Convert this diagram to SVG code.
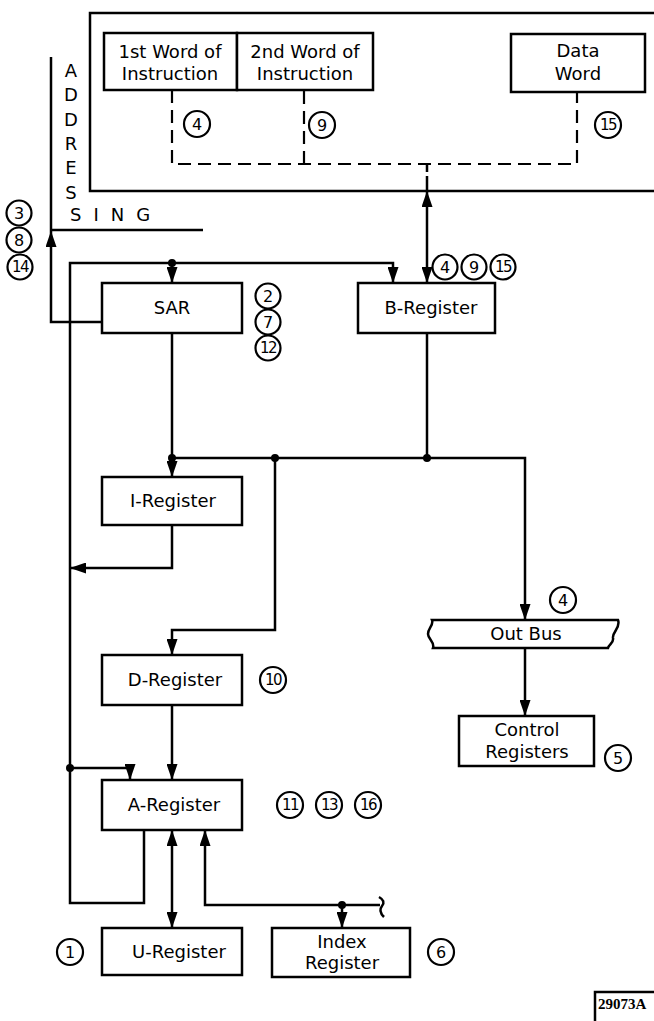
<svg xmlns="http://www.w3.org/2000/svg" width="654" height="1021" viewBox="0 0 654 1021">
<defs>
<style>
.box{fill:#fff;stroke:#000;stroke-width:2.5}
.ln{fill:none;stroke:#000;stroke-width:2.5}
.dash{fill:none;stroke:#000;stroke-width:2.2;stroke-dasharray:13,7}
.t{font-family:"DejaVu Sans",sans-serif;font-size:18px;fill:#000;text-anchor:middle}
.tl{font-family:"DejaVu Sans",sans-serif;font-size:18px;fill:#000}
.c{fill:#fff;stroke:#000;stroke-width:2.2}
.n{font-family:"DejaVu Sans",sans-serif;font-size:16px;fill:#000;text-anchor:middle}
.nn{font-family:"DejaVu Sans",sans-serif;font-size:15px;fill:#000;text-anchor:middle;letter-spacing:-1.5px}
.dot{fill:#000}
</style>
<marker id="ah" viewBox="0 0 16 11" refX="16" refY="5.5" markerWidth="16" markerHeight="11" markerUnits="userSpaceOnUse" orient="auto-start-reverse">
<path d="M0,0 L16,5.5 L0,11 z" fill="#000"/>
</marker>
</defs>
<rect width="654" height="1021" fill="#fff"/>

<g id="memory">
<path class="ln" d="M654,13 H90 V191 H654"/>
</g>
<g id="word1">
<rect class="box" x="104" y="33" width="133" height="57"/>
<text class="t" x="170" y="58">1st Word of</text>
<text class="t" x="170" y="80">Instruction</text>
</g>
<g id="word2">
<rect class="box" x="237" y="33" width="136" height="57"/>
<text class="t" x="305" y="58">2nd Word of</text>
<text class="t" x="305" y="80">Instruction</text>
</g>
<g id="dataword">
<rect class="box" x="511" y="34" width="134" height="58"/>
<text class="t" x="578" y="57">Data</text>
<text class="t" x="578" y="80">Word</text>
</g>

<g id="addressing">
<text class="t" x="71" y="77">A</text>
<text class="t" x="71" y="101">D</text>
<text class="t" x="71" y="126">D</text>
<text class="t" x="71" y="150">R</text>
<text class="t" x="71" y="174">E</text>
<text class="t" x="71" y="199">S</text>
<text class="tl" x="70" y="221" letter-spacing="12">SING</text>
</g>

<g id="sar">
<rect class="box" x="102" y="283" width="140" height="50"/>
<text class="t" x="172" y="314">SAR</text>
</g>
<g id="breg">
<rect class="box" x="358" y="283" width="137" height="50"/>
<text class="t" x="431" y="314">B-Register</text>
</g>
<g id="ireg">
<rect class="box" x="102" y="477" width="140" height="48"/>
<text class="t" x="173" y="507">I-Register</text>
</g>
<g id="dreg">
<rect class="box" x="102" y="655" width="140" height="50"/>
<text class="t" x="175" y="686">D-Register</text>
</g>
<g id="areg">
<rect class="box" x="102" y="780" width="140" height="50"/>
<text class="t" x="174" y="811">A-Register</text>
</g>
<g id="ureg">
<rect class="box" x="102" y="928" width="140" height="47"/>
<text class="t" x="179" y="958">U-Register</text>
</g>
<g id="indexreg">
<rect class="box" x="272" y="928" width="138" height="49"/>
<text class="t" x="342" y="948">Index</text>
<text class="t" x="342" y="969">Register</text>
</g>
<g id="outbus">
<path class="box" d="M432,620 H618 C621,628 612,632 613,638 C614,643 609,644 608,648 H433 C435,642 428,639 428,634 C428,628 434,625 432,620 Z"/>
<text class="t" x="526" y="640">Out Bus</text>
</g>
<g id="ctrlreg">
<rect class="box" x="459" y="716" width="135" height="50"/>
<text class="t" x="527" y="736">Control</text>
<text class="t" x="527" y="758">Registers</text>
</g>

<g id="connectors">
<path class="dash" d="M172,90 V164 H577 V92"/>
<path class="dash" d="M304,91 V164"/>
<path class="ln" d="M427,164 V172 M427,176 V191"/>
<path class="ln" d="M427,191 V283" marker-start="url(#ah)" marker-end="url(#ah)"/>
<path class="ln" d="M102,322 H51 V231" marker-end="url(#ah)"/>
<path class="ln" d="M51,231 V57"/>
<path class="ln" d="M51,230 H203"/>
<path class="ln" d="M144,830 V903 H70 V263 H393 V283" marker-end="url(#ah)"/>
<path class="ln" d="M172,263 V283" marker-end="url(#ah)"/>
<path class="ln" d="M172,333 V477" marker-end="url(#ah)"/>
<path class="ln" d="M172,458 H525 V620" marker-end="url(#ah)"/>
<path class="ln" d="M427,333 V458"/>
<path class="ln" d="M172,525 V568 H70" marker-end="url(#ah)"/>
<path class="ln" d="M275,458 V630 H172 V655" marker-end="url(#ah)"/>
<path class="ln" d="M172,705 V780" marker-end="url(#ah)"/>
<path class="ln" d="M70,768 H130 V780" marker-end="url(#ah)"/>
<path class="ln" d="M172,830 V928" marker-start="url(#ah)" marker-end="url(#ah)"/>
<path class="ln" d="M380,905 H205 V830" marker-end="url(#ah)"/>
<path class="ln" d="M379,897 Q386,901 382,906 Q378,911 384,917"/>
<path class="ln" d="M342,905 V928" marker-end="url(#ah)"/>
<path class="ln" d="M525,648 V716" marker-end="url(#ah)"/>
<circle class="dot" cx="172" cy="263" r="4"/>
<circle class="dot" cx="172" cy="458" r="4"/>
<circle class="dot" cx="275" cy="458" r="4"/>
<circle class="dot" cx="427" cy="458" r="4"/>
<circle class="dot" cx="70" cy="768" r="4"/>
<circle class="dot" cx="342" cy="905" r="4"/>
</g>

<g id="steps">
<circle class="c" cx="197" cy="124" r="13"/><text class="n" x="197" y="130">4</text>
<circle class="c" cx="322" cy="125" r="13"/><text class="n" x="322" y="131">9</text>
<circle class="c" cx="608" cy="125" r="13"/><text class="nn" x="608" y="130">15</text>
<circle class="c" cx="19" cy="213" r="12.5"/><text class="n" x="19" y="219">3</text>
<circle class="c" cx="19" cy="240" r="12.5"/><text class="n" x="19" y="246">8</text>
<circle class="c" cx="20" cy="267" r="12.5"/><text class="nn" x="20" y="272">14</text>
<circle class="c" cx="268" cy="296" r="12.5"/><text class="n" x="268" y="302">2</text>
<circle class="c" cx="268" cy="322" r="12.5"/><text class="n" x="268" y="328">7</text>
<circle class="c" cx="268" cy="348" r="12.5"/><text class="nn" x="268" y="353">12</text>
<circle class="c" cx="445" cy="267" r="12.5"/><text class="n" x="445" y="273">4</text>
<circle class="c" cx="474" cy="267" r="12.5"/><text class="n" x="474" y="273">9</text>
<circle class="c" cx="503" cy="267" r="12.5"/><text class="nn" x="503" y="272">15</text>
<circle class="c" cx="563" cy="600" r="13"/><text class="n" x="563" y="606">4</text>
<circle class="c" cx="273" cy="680" r="13"/><text class="nn" x="273" y="685">10</text>
<circle class="c" cx="618" cy="758" r="13"/><text class="n" x="618" y="764">5</text>
<circle class="c" cx="290" cy="805" r="13"/><text class="nn" x="290" y="810">11</text>
<circle class="c" cx="329" cy="805" r="13"/><text class="nn" x="329" y="810">13</text>
<circle class="c" cx="368" cy="805" r="13"/><text class="nn" x="368" y="810">16</text>
<circle class="c" cx="70" cy="952" r="13"/><text class="n" x="70" y="958">1</text>
<circle class="c" cx="441" cy="952" r="13"/><text class="n" x="441" y="958">6</text>
</g>

<g id="figno">
<path class="ln" d="M595,1021 V992 H654"/>
<text x="598" y="1009" font-family="Liberation Serif, serif" font-weight="bold" font-size="15">29073A</text>
</g>
</svg>
